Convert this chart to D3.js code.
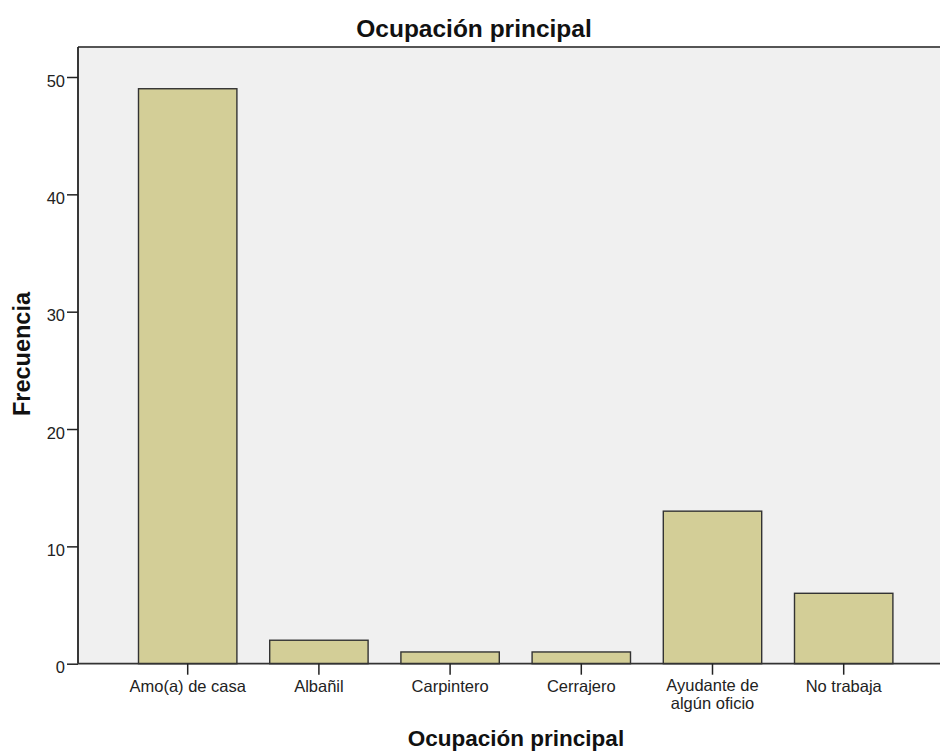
<!DOCTYPE html>
<html>
<head>
<meta charset="utf-8">
<script src="https://cdn.jsdelivr.net/npm/d3@7/dist/d3.min.js"></script>
<style>
  html, body { margin: 0; padding: 0; background: #fff; }
  svg { display: block; font-family: "Liberation Sans", Arial, sans-serif; }
</style>
</head>
<body>
<svg id="chart" width="940" height="751"></svg>
<script>
const categories = ["Amo(a) de casa", "Albañil", "Carpintero", "Cerrajero", "Ayudante de\nalgún oficio", "No trabaja"];
const values = [49, 2, 1, 1, 13, 6];
const yTicks = [0, 10, 20, 30, 40, 50];
const title = "Ocupación principal";
const xTitle = "Ocupación principal";
const yTitle = "Frecuencia";

const svg = d3.select("#chart");
const plot = { left: 78, top: 47, right: 954, bottom: 664 };
const FONT = "'Liberation Sans', Arial, sans-serif";

const x = d3.scaleBand()
  .domain(categories)
  .range([122.1, 909.3])
  .paddingInner(0.25)
  .paddingOuter(0.125);

const y = d3.scaleLinear().domain([0, 50]).range([663.7, 77]);

// background
svg.append("rect")
  .attr("x", plot.left).attr("y", plot.top)
  .attr("width", plot.right - plot.left).attr("height", plot.bottom - plot.top)
  .attr("fill", "#f0f0f0");

// bars
svg.append("g").selectAll("rect")
  .data(categories)
  .join("rect")
  .attr("x", d => x(d))
  .attr("width", x.bandwidth())
  .attr("y", (d, i) => y(values[i]))
  .attr("height", (d, i) => y(0) - y(values[i]))
  .attr("fill", "#d3ce97")
  .attr("stroke", "#333")
  .attr("stroke-width", 1.4);

// frame top
svg.append("line")
  .attr("x1", plot.left).attr("x2", plot.right)
  .attr("y1", plot.top).attr("y2", plot.top)
  .attr("stroke", "#555").attr("stroke-width", 1.8);

// y axis
const yAxis = d3.axisLeft(y).tickValues(yTicks).tickSize(11).tickPadding(2).tickSizeOuter(0);
const gy = svg.append("g").attr("transform", `translate(${plot.left},0)`).call(yAxis);
gy.select(".domain").attr("d", `M0,${plot.top}V${y(0)}`).attr("stroke", "#222").attr("stroke-width", 1.8);
gy.selectAll(".tick line").attr("stroke", "#222").attr("stroke-width", 1.5);
gy.selectAll(".tick text").attr("font-size", 16.5).attr("fill", "#222")
  .attr("dy", "0.55em").attr("font-family", FONT);

// x axis
const xAxis = d3.axisBottom(x).tickSize(11).tickSizeOuter(0).tickFormat("");
const gx = svg.append("g").attr("transform", `translate(0,${y(0)})`).call(xAxis);
gx.select(".domain").attr("d", `M${plot.left},0H${plot.right}`).attr("stroke", "#333").attr("stroke-width", 1.8);
gx.selectAll(".tick line").attr("stroke", "#222").attr("stroke-width", 1.5);
gx.selectAll(".tick").each(function(d) {
  const lines = d.split("\n");
  const g = d3.select(this);
  const base = lines.length > 1 ? 27 : 28.5;
  lines.forEach((l, i) => {
    g.append("text")
      .attr("fill", "#222").attr("font-size", 16.5).attr("text-anchor", "middle")
      .attr("font-family", FONT)
      .attr("x", 0).attr("y", base + i * 18.6).text(l);
  });
});

// titles
svg.append("text").attr("x", 474).attr("y", 37).attr("text-anchor", "middle")
  .attr("font-size", 24.5).attr("font-weight", "bold").attr("fill", "#111").text(title);
svg.append("text").attr("x", 516).attr("y", 746).attr("text-anchor", "middle")
  .attr("font-size", 22.5).attr("font-weight", "bold").attr("fill", "#111").text(xTitle);
svg.append("text").attr("transform", "translate(30,354) rotate(-90)").attr("text-anchor", "middle")
  .attr("font-size", 23.5).attr("font-weight", "bold").attr("fill", "#111").text(yTitle);
</script>
</body>
</html>
